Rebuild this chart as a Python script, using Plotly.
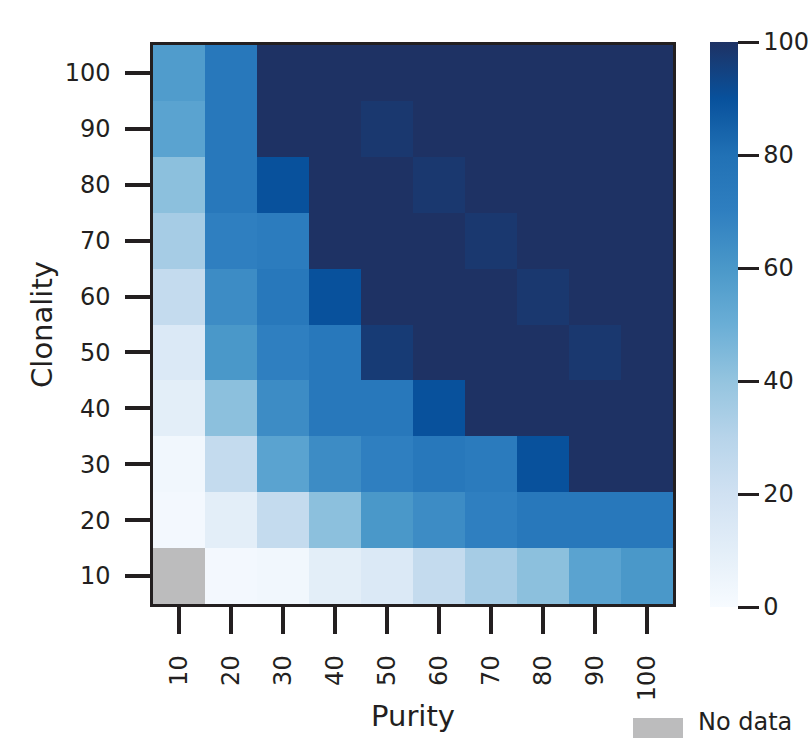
import plotly.graph_objects as go
import numpy as np

purity = [10, 20, 30, 40, 50, 60, 70, 80, 90, 100]
clonality = [10, 20, 30, 40, 50, 60, 70, 80, 90, 100]

# rows: clonality 10..100 ; columns: purity 10..100
row_c10 = [None, 2, 3, 10, 14, 25, 35, 42, 55, 60]
row_c20 = [2, 10, 25, 42, 60, 65, 70, 75, 75, 75]
row_c30 = [3, 25, 55, 65, 70, 75, 73, 90, 100, 100]
row_c40 = [10, 42, 65, 75, 75, 90, 100, 100, 100, 100]
row_c50 = [14, 60, 70, 75, 97, 100, 100, 100, 98, 100]
row_c60 = [25, 65, 75, 90, 100, 100, 100, 98, 100, 100]
row_c70 = [35, 70, 72, 100, 100, 100, 98, 100, 100, 100]
row_c80 = [42, 75, 90, 100, 100, 98, 100, 100, 100, 100]
row_c90 = [55, 75, 100, 100, 98, 100, 100, 100, 100, 100]
row_c100 = [58, 75, 100, 100, 100, 100, 100, 100, 100, 100]

rows = [row_c10, row_c20, row_c30, row_c40, row_c50,
        row_c60, row_c70, row_c80, row_c90, row_c100]
z = [[np.nan if v is None else v for v in r] for r in rows]
nodata = [[1 if v is None else np.nan for v in r] for r in rows]

colorscale = [
    [0.0, "#f7fbff"],
    [0.1, "#e3eef8"],
    [0.2, "#d0e1f2"],
    [0.3, "#b7d4ea"],
    [0.4, "#94c4df"],
    [0.5, "#6aaed6"],
    [0.6, "#4a98c9"],
    [0.7, "#2f7fc0"],
    [0.8, "#2171b5"],
    [0.9, "#08519c"],
    [1.0, "#1e3264"],
]

ink = "#231f20"
font_family = "DejaVu Sans"
tick_size = 24
title_size = 29

fig = go.Figure()
fig.add_trace(go.Heatmap(
    x=purity, y=clonality, z=z, zmin=0, zmax=100,
    colorscale=colorscale, xgap=0, ygap=0,
    colorbar=dict(
        x=1.071, xanchor="left", xref="paper",
        y=0.5, yanchor="middle", len=1.01, lenmode="fraction",
        ypad=0, xpad=0,
        thickness=28, outlinewidth=0,
        ticks="outside", ticklen=21, tickwidth=3, tickcolor=ink,
        tickvals=[0, 20, 40, 60, 80, 100],
        tickfont=dict(family=font_family, size=tick_size, color=ink),
    ),
))
fig.add_trace(go.Heatmap(
    x=purity, y=clonality, z=nodata, zmin=0, zmax=1,
    colorscale=[[0, "#bcbcbd"], [1, "#bcbcbd"]], showscale=False,
    hoverinfo="skip",
))

axis_common = dict(
    showgrid=False, zeroline=False,
    showline=True, mirror=True, linecolor=ink, linewidth=2.5,
    ticks="outside", tickwidth=3.5, tickcolor=ink,
    tickfont=dict(family=font_family, size=tick_size, color=ink),
)

fig.update_layout(
    width=809, height=738,
    margin=dict(l=153, r=136, t=45, b=134, autoexpand=False),
    paper_bgcolor="white", plot_bgcolor="white",
    xaxis=dict(
        **axis_common, tickvals=purity, ticklen=27, tickangle=-90,
        ticklabelstandoff=12, range=[5, 105],
        title=dict(text="Purity", font=dict(family=font_family, size=title_size, color=ink),
                   standoff=6),
    ),
    yaxis=dict(
        **axis_common, tickvals=clonality, ticklen=25,
        ticklabelstandoff=10, range=[5, 105],
        title=dict(text="Clonality", font=dict(family=font_family, size=title_size, color=ink),
                   standoff=4),
    ),
    showlegend=False,
)

# "No data" legend key
fig.add_shape(type="rect", xref="paper", yref="paper",
              x0=(633 - 153) / 520, x1=(683 - 153) / 520,
              y0=-(718 - 604) / 559, y1=-(738 - 604) / 559,
              fillcolor="#bcbcbd", line=dict(width=0))
fig.add_annotation(text="No data", xref="paper", yref="paper",
                   x=(696 - 153) / 520, y=-(722 - 604) / 559,
                   xanchor="left", yanchor="middle", showarrow=False,
                   font=dict(family=font_family, size=24, color=ink))

fig.write_html("out.html")
